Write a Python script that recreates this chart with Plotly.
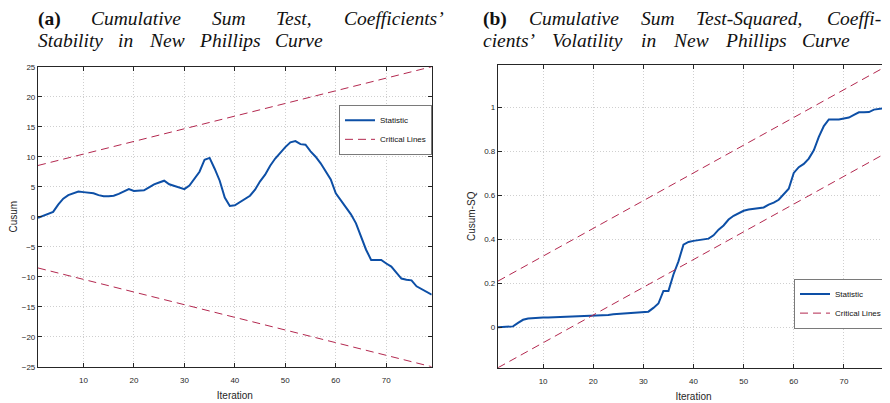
import plotly.graph_objects as go

# ---------------- data ----------------
iteration = list(range(1, 80))

cusum = [-0.2, 0.1, 0.4, 0.8, 2.0, 3.0, 3.6, 3.9, 4.2, 4.1,
         4.0, 3.9, 3.6, 3.4, 3.4, 3.5, 3.8, 4.2, 4.6, 4.3,
         4.3, 4.4, 4.9, 5.4, 5.7, 6.0, 5.4, 5.1, 4.9, 4.6,
         5.2, 6.3, 7.5, 9.5, 9.8, 8.0, 6.0, 3.2, 1.8, 1.9,
         2.4, 3.0, 3.5, 4.5, 5.9, 7.0, 8.5, 9.7, 10.7, 11.6,
         12.4, 12.6, 12.1, 12.0, 10.9, 10.0, 8.9, 7.6, 6.2, 3.9,
         2.7, 1.7, 0.4, -1.1, -3.3, -5.5, -7.2, -7.2, -7.2, -7.8,
         -8.3, -9.3, -10.3, -10.5, -10.6, -11.6, -12.1, -12.6, -13.0]

cusum_sq = [0.000, 0.001, 0.002, 0.004, 0.020, 0.034, 0.040, 0.042, 0.043, 0.044,
            0.044, 0.045, 0.045, 0.046, 0.046, 0.047, 0.048, 0.049, 0.051, 0.053,
            0.054, 0.055, 0.056, 0.059, 0.061, 0.064, 0.066, 0.068, 0.069, 0.070,
            0.071, 0.088, 0.108, 0.165, 0.165, 0.240, 0.300, 0.376, 0.388, 0.393,
            0.396, 0.399, 0.403, 0.418, 0.444, 0.463, 0.490, 0.507, 0.520, 0.530,
            0.536, 0.538, 0.541, 0.545, 0.558, 0.567, 0.580, 0.604, 0.630, 0.702,
            0.728, 0.743, 0.767, 0.805, 0.866, 0.915, 0.945, 0.945, 0.945, 0.950,
            0.954, 0.966, 0.978, 0.978, 0.979, 0.990, 0.992, 0.996, 1.000]

crit_x = [1, 79]
cusum_upper = [8.54, 25.0]
cusum_lower = [-8.54, -25.0]
sq_upper = [0.21, 1.194]
sq_lower = [-0.184, 0.80]

x_ticks = [10, 20, 30, 40, 50, 60, 70]
cusum_ticks = [-25, -20, -15, -10, -5, 0, 5, 10, 15, 20, 25]
sq_ticks = [0, 0.2, 0.4, 0.6, 0.8, 1]
sq_ticklabels = ["0", "0.2", "0.4", "0.6", "0.8", "1"]

# ---------------- styles ----------------
PAGE_OFF = 8          # default body margin of the html page
W, H = 890 - PAGE_OFF, 403 - PAGE_OFF
BLUE = "#0d4fa6"
RED = "#b3284f"
AX = "#262626"
SANS = "Liberation Sans, Arial, sans-serif"
SERIF = "Liberation Serif, Times New Roman, serif"


def px_x(p):
    return (p - PAGE_OFF) / W


def px_y(p):
    return 1 - (p - PAGE_OFF) / H


fig = go.Figure()

# left panel
fig.add_trace(go.Scatter(x=iteration, y=cusum, mode="lines", name="Statistic",
                         line=dict(color=BLUE, width=2), xaxis="x", yaxis="y",
                         legend="legend"))
fig.add_trace(go.Scatter(x=crit_x + [None] + crit_x,
                         y=cusum_upper + [None] + cusum_lower,
                         mode="lines", name="Critical Lines",
                         line=dict(color=RED, width=1, dash="8px,5px"),
                         xaxis="x", yaxis="y", legend="legend"))
# right panel
fig.add_trace(go.Scatter(x=iteration, y=cusum_sq, mode="lines", name="Statistic",
                         line=dict(color=BLUE, width=2), xaxis="x2", yaxis="y2",
                         legend="legend2"))
fig.add_trace(go.Scatter(x=crit_x + [None] + crit_x,
                         y=sq_upper + [None] + sq_lower,
                         mode="lines", name="Critical Lines",
                         line=dict(color=RED, width=1, dash="8px,5px"),
                         xaxis="x2", yaxis="y2", legend="legend2"))

axis_common = dict(showline=True, linecolor=AX, linewidth=1.2, mirror="allticks",
                   ticks="inside", ticklen=4, tickcolor=AX, tickwidth=1,
                   showgrid=True, gridcolor="#cfcfcf", griddash="1px,2px", gridwidth=1,
                   zeroline=False, tickfont=dict(family=SANS, size=8, color=AX))

fig.update_layout(
    width=W, height=H,
    margin=dict(l=0, r=0, t=0, b=0),
    paper_bgcolor="white", plot_bgcolor="white",
    font=dict(family=SANS, color=AX),
    xaxis=dict(domain=[px_x(38), px_x(431.7)], range=[1, 79], tickvals=x_ticks,
               ticklabelstandoff=6,
               title=dict(text="Iteration", font=dict(size=10, color=AX), standoff=7),
               anchor="y", **axis_common),
    yaxis=dict(domain=[px_y(371), px_y(64)], range=[-25, 25], tickvals=cusum_ticks,
               title=dict(text="Cusum", font=dict(size=10, color=AX), standoff=5),
               anchor="x", **axis_common),
    xaxis2=dict(domain=[px_x(498), px_x(889)], range=[1, 79], tickvals=x_ticks,
                ticklabelstandoff=6,
                title=dict(text="Iteration", font=dict(size=10, color=AX), standoff=7),
                anchor="y2", **axis_common),
    yaxis2=dict(domain=[px_y(372), px_y(62)], range=[-0.184, 1.194], tickvals=sq_ticks,
                ticktext=sq_ticklabels,
                title=dict(text="Cusum-SQ", font=dict(size=10, color=AX), standoff=6),
                anchor="x2", **axis_common),
    legend=dict(x=px_x(339), y=px_y(103), xanchor="left", yanchor="top",
                bgcolor="white", bordercolor="#7a7a7a", borderwidth=1,
                font=dict(family=SANS, size=8, color="#111")),
    legend2=dict(x=px_x(887), y=px_y(332), xanchor="right", yanchor="bottom",
                 bgcolor="white", bordercolor="#7a7a7a", borderwidth=1,
                 font=dict(family=SANS, size=8, color="#111")),
    showlegend=True,
)

title_font = dict(family=SERIF, size=19.5, color="#111")
# titles are typeset word by word (the first lines are justified)
line1_words = [
    (37, "<b>(a)</b>"), (90, "<i>Cumulative</i>"), (211, "<i>Sum</i>"),
    (275, "<i>Test,</i>"), (343, "<i>Coefficients’</i>"),
    (482, "<b>(b)</b>"), (528, "<i>Cumulative</i>"), (640, "<i>Sum</i>"),
    (695, "<i>Test-Squared,</i>"), (826, "<i>Coeffi-</i>"),
]
line2_words = [
    (37, "<i>Stability</i>"), (117, "<i>in</i>"), (148, "<i>New</i>"),
    (198, "<i>Phillips</i>"), (274, "<i>Curve</i>"),
    (482, "<i>cients’</i>"), (551, "<i>Volatility</i>"), (640, "<i>in</i>"),
    (672, "<i>New</i>"), (724, "<i>Phillips</i>"), (801, "<i>Curve</i>"),
]
for top, words in ((3, line1_words), (25, line2_words)):
    for tx, txt in words:
        fig.add_annotation(x=px_x(tx), y=px_y(top), xref="paper", yref="paper",
                           xanchor="left", yanchor="top", text=txt, showarrow=False,
                           font=title_font, align="left", borderpad=0)

fig.write_html("out.html")
